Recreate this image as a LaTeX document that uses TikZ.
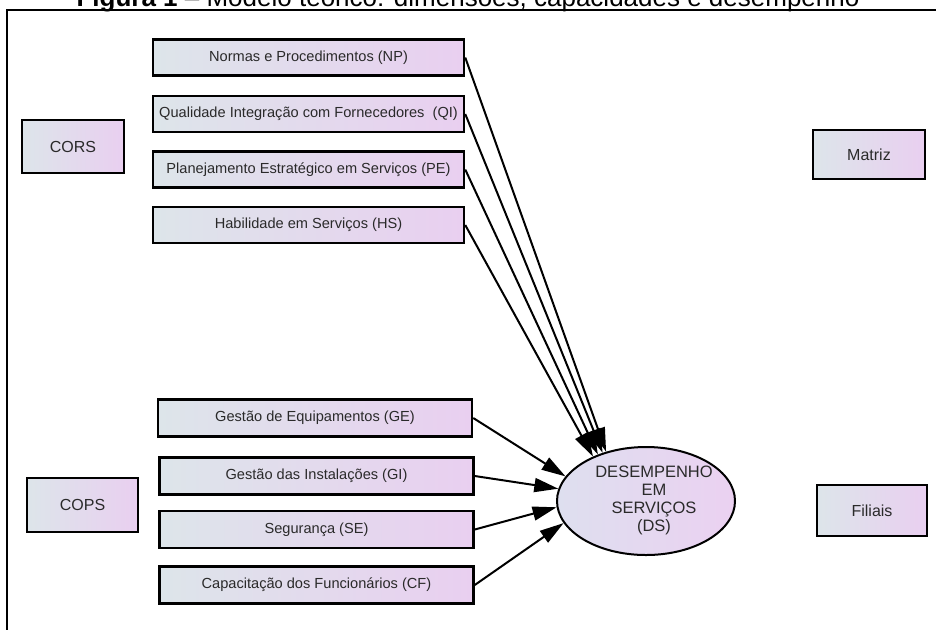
\documentclass[tikz,border=0pt]{standalone}
\usepackage{fontspec}
\setmainfont{Liberation Sans}
\usetikzlibrary{arrows.meta,shapes.geometric}

\definecolor{fillL}{HTML}{DDE5EA}
\definecolor{fillR}{HTML}{E9CFF0}
\definecolor{ellL}{HTML}{DEDFEF}
\definecolor{ellR}{HTML}{EBD1F1}
\definecolor{ink}{HTML}{2A2A2A}

\begin{document}
\begin{tikzpicture}[x=1pt,y=-1pt,
  factor/.style={draw=black, line width=2.5pt, left color=fillL, right color=fillR,
    minimum width=311pt, minimum height=36pt, inner sep=0pt,
    font=\fontsize{14.6}{16}\selectfont, text=ink},
  factorB/.style={factor, minimum width=314pt, minimum height=37pt},
  unit/.style={draw=black, line width=2.5pt, left color=fillL, right color=fillR,
    inner sep=0pt, font=\fontsize{16}{18}\selectfont, text=ink},
  outcome/.style={ellipse, draw=black, line width=2pt, left color=ellL, right color=ellR,
    minimum width=178pt, minimum height=108pt, inner sep=0pt},
  arr/.style={line width=2pt, -{Triangle[length=24pt,width=14pt]}},
  frame/.style={line width=2pt}
]
\useasboundingbox (0,0) rectangle (936,630);

% caption (its upper part lies above the page)
\node[anchor=base, inner sep=0pt, font=\fontsize{26}{30}\selectfont] (caption) at (468,6.5)
  {\textbf{Figura 1} – Modelo teórico: dimensões, capacidades e desempenho};

% frame lines
\coordinate (fr1) at (936,9.5);
\coordinate (fr2) at (7,9.5);
\coordinate (fr3) at (7,630);
\draw[frame] (fr1) -- (fr2) -- (fr3);

% upper group of dimensions
\node[factor] (np) at (308.5,57.5) {Normas e Procedimentos (NP)};
\node[factor] (qi) at (308.5,114) {Qualidade Integração com Fornecedores\ \ (QI)};
\node[factor] (pe) at (308.5,169.5) {Planejamento Estratégico em Serviços (PE)};
\node[factor] (hs) at (308.5,225) {Habilidade em Serviços (HS)};

% lower group of dimensions
\node[factorB] (ge) at (315,418) {Gestão de Equipamentos (GE)};
\node[factorB] (gi) at (316.5,476) {Gestão das Instalações (GI)};
\node[factorB] (se) at (316.5,529.5) {Segurança (SE)};
\node[factorB] (cf) at (316.5,585) {Capacitação dos Funcionários (CF)};

% organisational units
\node[unit, minimum width=102pt, minimum height=53pt] (cors) at (73,146.5) {CORS};
\node[unit, minimum width=111pt, minimum height=54pt] (cops) at (82.5,505) {COPS};
\node[unit, minimum width=112pt, minimum height=49pt] (matriz) at (869,154.5) {Matriz};
\node[unit, minimum width=110pt, minimum height=51pt] (filiais) at (872,510.5) {Filiais};

% service performance
\node[outcome] (ds) at (646,501) {};
\node[align=center, inner sep=0pt, font=\fontsize{16.5}{18}\selectfont, text=ink] (dstext) at (654,500)
  {DESEMPENHO\\EM\\SERVIÇOS\\(DS)};

% effects on performance
\draw[arr] (np.east) -- (ds.129);
\draw[arr] (qi.east) -- (ds.132.5);
\draw[arr] (pe.east) -- (ds.136);
\draw[arr] (hs.east) -- (ds.140);
\draw[arr] (ge.east) -- (ds.163);
\draw[arr] (gi.east) -- (ds.172);
\draw[arr] (se.east) -- (ds.184);
\draw[arr] (cf.east) -- (ds.195);
\end{tikzpicture}
\end{document}
